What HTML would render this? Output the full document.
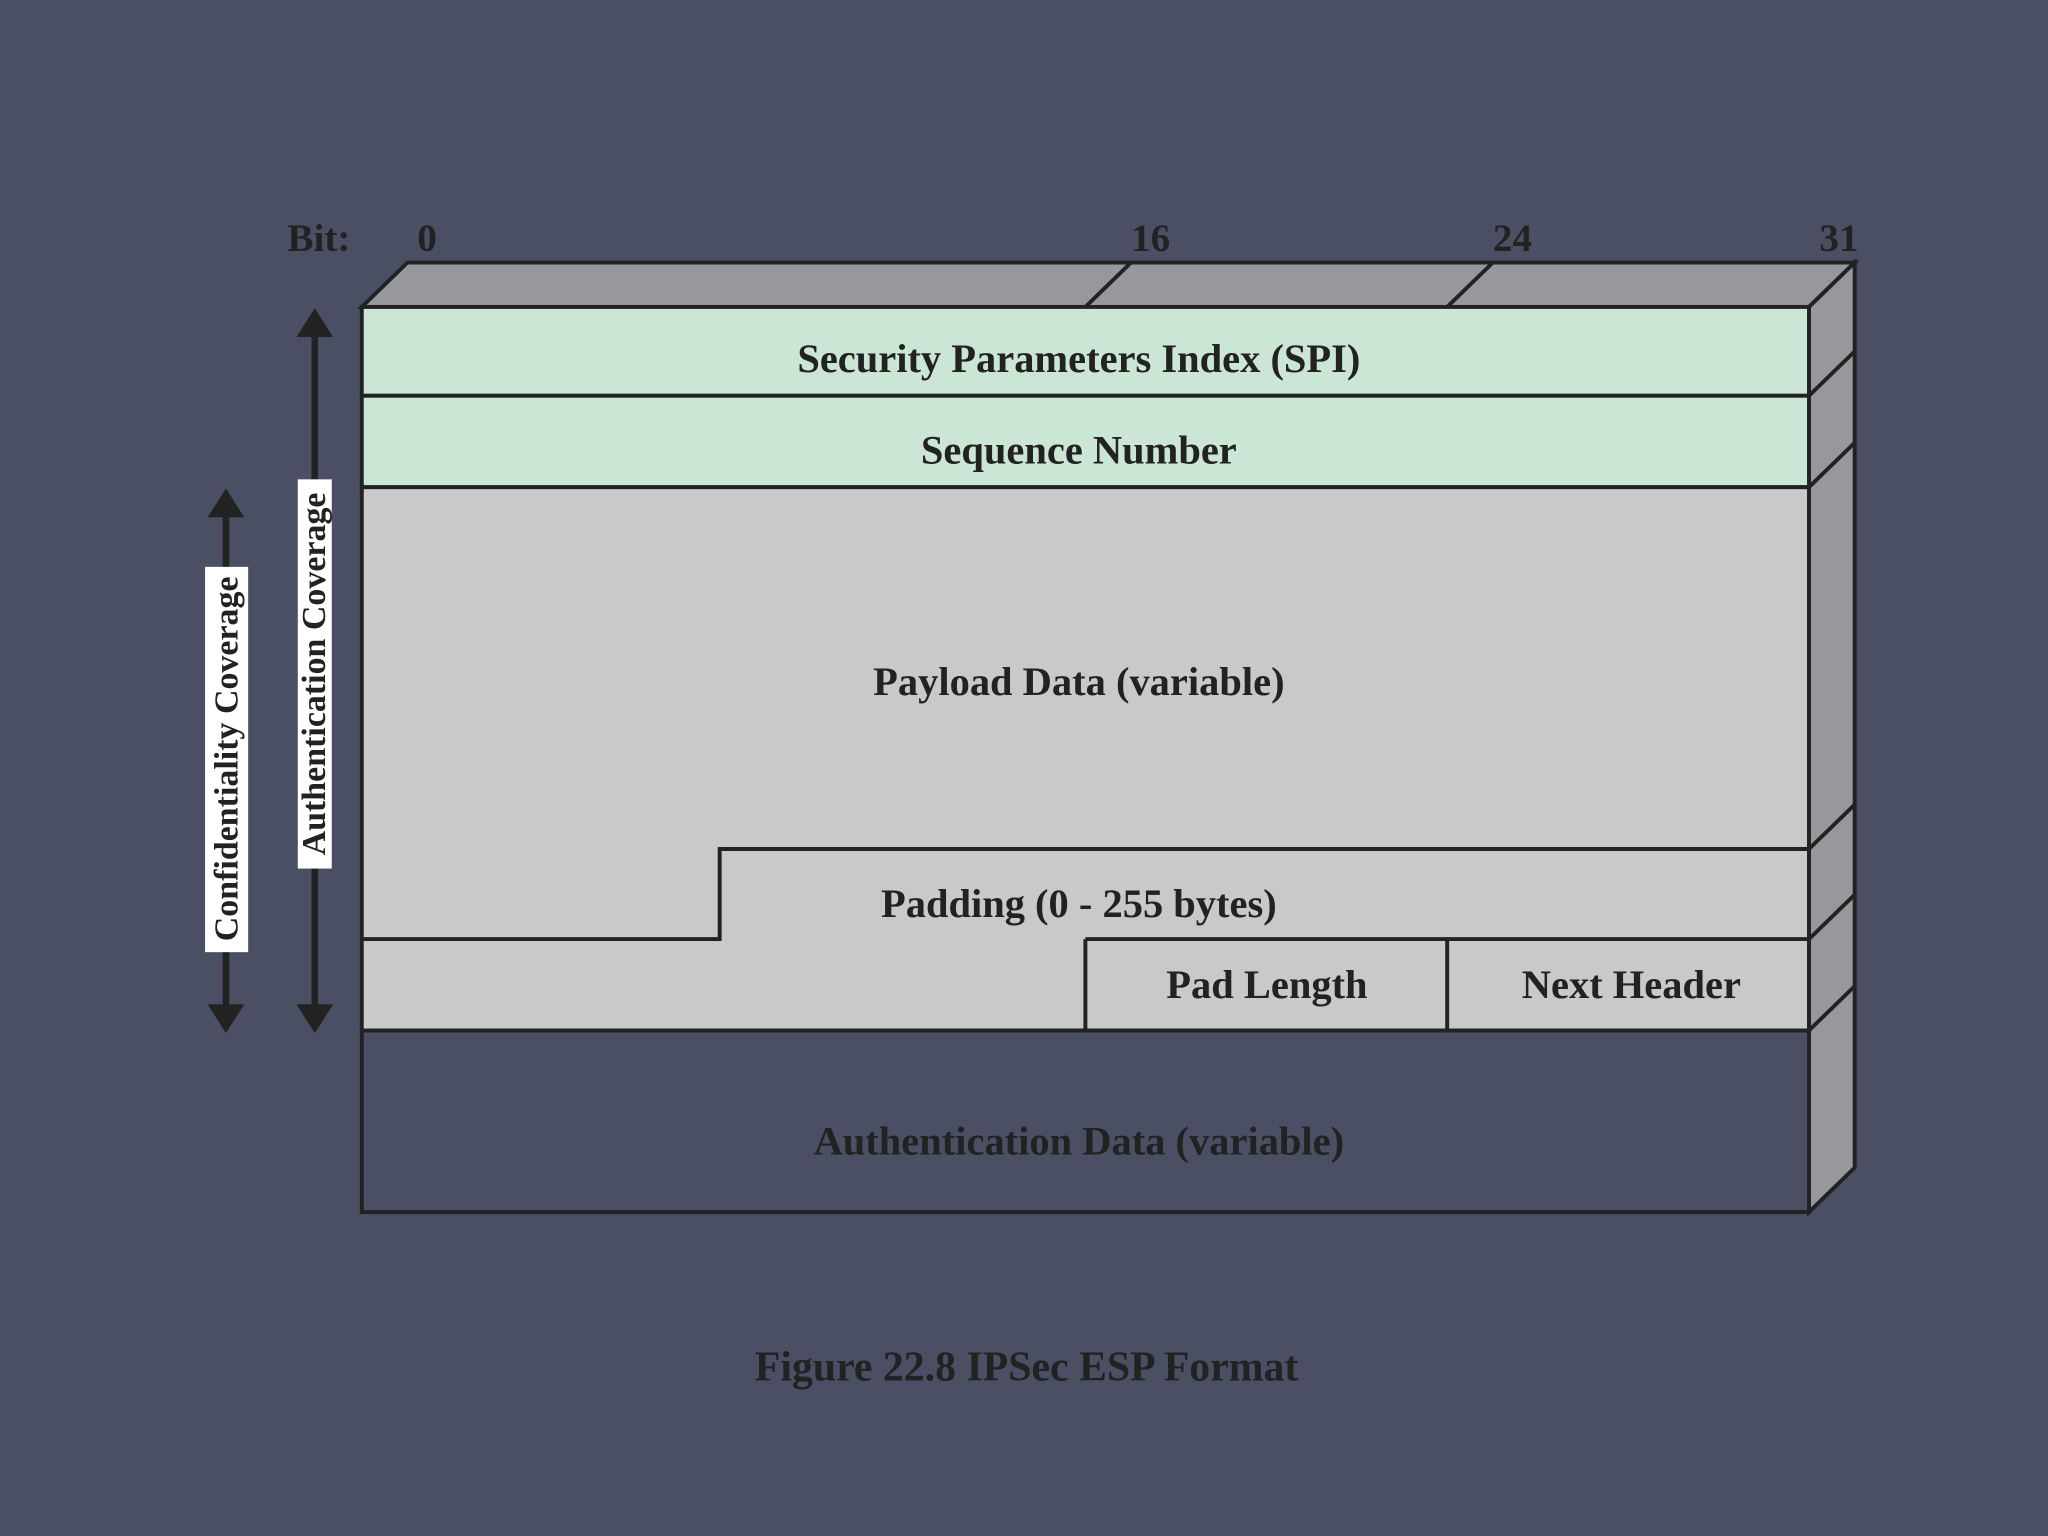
<!DOCTYPE html>
<html><head><meta charset="utf-8"><style>
html,body{margin:0;padding:0;background:#4a4f63;}
svg{display:block;}
text{font-family:"Liberation Serif",serif;font-weight:bold;fill:#222;}
</style></head><body>
<svg width="2048" height="1536" viewBox="0 0 1568 1176" xmlns="http://www.w3.org/2000/svg">
<rect width="1568" height="1176" fill="#4a4f63"/>
<!-- top face -->
<polygon points="277,235 312,201 1420,201 1385,235" fill="#97989c" stroke="#222" stroke-width="3"/>
<line x1="831" y1="235" x2="866" y2="201" stroke="#222" stroke-width="3"/>
<line x1="1108" y1="235" x2="1143" y2="201" stroke="#222" stroke-width="3"/>
<!-- right side -->
<polygon points="1385,235 1420,201 1420,894 1385,928" fill="#97989c" stroke="#222" stroke-width="3"/>
<g stroke="#222" stroke-width="3">
<line x1="1385" y1="303" x2="1420" y2="269"/>
<line x1="1385" y1="373" x2="1420" y2="339"/>
<line x1="1385" y1="650" x2="1420" y2="616"/>
<line x1="1385" y1="719" x2="1420" y2="685"/>
<line x1="1385" y1="789" x2="1420" y2="755"/>
</g>
<!-- front -->
<rect x="277" y="235" width="1108" height="68" fill="#cce6d6" stroke="#222" stroke-width="3"/>
<rect x="277" y="303" width="1108" height="70" fill="#cce6d6" stroke="#222" stroke-width="3"/>
<rect x="277" y="373" width="1108" height="416" fill="#c8c9cb" stroke="#222" stroke-width="3"/>
<polyline points="277,719 551,719 551,650 1385,650" fill="none" stroke="#222" stroke-width="3"/>
<line x1="831" y1="719" x2="1385" y2="719" stroke="#222" stroke-width="3"/>
<line x1="831" y1="719" x2="831" y2="789" stroke="#222" stroke-width="3"/>
<line x1="1108" y1="719" x2="1108" y2="789" stroke="#222" stroke-width="3"/>
<rect x="277" y="789" width="1108" height="139" fill="#4a4f63" stroke="#222" stroke-width="3"/>
<!-- labels -->
<text x="220" y="192" font-size="30">Bit:</text>
<text x="327" y="192" font-size="30" text-anchor="middle">0</text>
<text x="881" y="192" font-size="30" text-anchor="middle">16</text>
<text x="1158" y="192" font-size="30" text-anchor="middle">24</text>
<text x="1408" y="192" font-size="30" text-anchor="middle">31</text>
<text x="826" y="285" font-size="31" text-anchor="middle">Security Parameters Index (SPI)</text>
<text x="826" y="355" font-size="31" text-anchor="middle">Sequence Number</text>
<text x="826" y="532" font-size="31" text-anchor="middle">Payload Data (variable)</text>
<text x="826" y="702" font-size="31" text-anchor="middle">Padding (0 - 255 bytes)</text>
<text x="970" y="764" font-size="31" text-anchor="middle">Pad Length</text>
<text x="1249" y="764" font-size="31" text-anchor="middle">Next Header</text>
<text x="826" y="884" font-size="31" text-anchor="middle">Authentication Data (variable)</text>
<text x="786" y="1057" font-size="32" text-anchor="middle">Figure 22.8  IPSec ESP Format</text>
<!-- arrows -->
<g fill="#222" stroke="#222">
<line x1="173" y1="390" x2="173" y2="775" stroke-width="5"/>
<polygon points="173,374 159,396 187,396" stroke="none"/>
<polygon points="173,791 159,769 187,769" stroke="none"/>
<line x1="241" y1="252" x2="241" y2="775" stroke-width="5"/>
<polygon points="241,236 227,258 255,258" stroke="none"/>
<polygon points="241,791 227,769 255,769" stroke="none"/>
</g>
<rect x="157" y="434" width="33" height="295" fill="#fff"/>
<rect x="228" y="367" width="26" height="298" fill="#fff"/>
<text transform="translate(182,581) rotate(-90)" font-size="26" text-anchor="middle">Confidentiality Coverage</text>
<text transform="translate(249,516) rotate(-90)" font-size="26" text-anchor="middle">Authentication Coverage</text>
</svg>
</body></html>
